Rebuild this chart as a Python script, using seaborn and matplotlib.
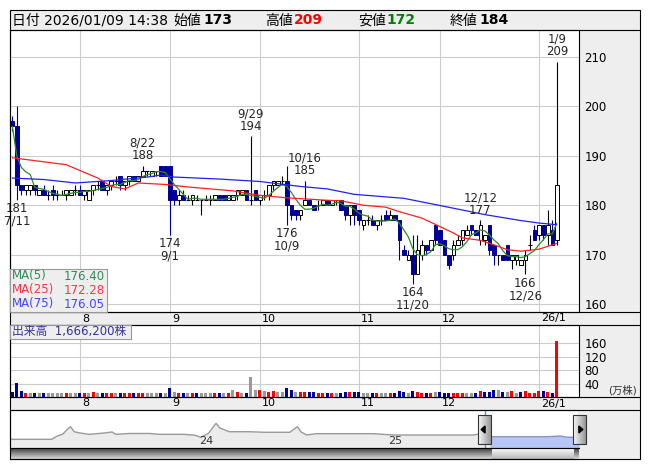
import numpy as np
import pandas as pd
import matplotlib
matplotlib.use("Agg")
import matplotlib.pyplot as plt
from matplotlib.patches import Rectangle, Polygon
import seaborn as sns

# ---------------- data ----------------
first_day = "2025-07-10"
last_day = "2026-01-09"
holidays = ["2025-07-21", "2025-08-11", "2025-09-15", "2025-09-23", "2025-10-13",
            "2025-11-03", "2025-11-24", "2025-12-31", "2026-01-01", "2026-01-02"]
stamp = "2026/01/09 14:38"
month_labels = ["8", "9", "10", "11", "12", "26/1"]

opens = [197, 196, 184, 183, 183, 184, 182, 183, 182, 183, 182, 182, 182, 182, 183, 183, 182, 181, 183, 184,
         185, 183, 184, 185, 186, 184, 185, 186, 185, 186, 187, 186, 187, 188, 188, 188, 183, 181, 182, 181,
         181, 181, 181, 181, 181, 181, 182, 182, 181, 181, 182, 182, 183, 181, 183, 181, 182, 182, 184, 184,
         185, 185, 180, 179, 178, 180, 181, 180, 180, 180, 181, 180, 181, 181, 180, 178, 180, 179, 176, 177,
         177, 176, 177, 178, 177, 178, 177, 171, 169, 170, 166, 170, 172, 171, 176, 175, 173, 170, 170, 172,
         173, 174, 176, 175, 173, 173, 176, 172, 170, 170, 172, 169, 169, 168, 169, 172, 175, 174, 176, 174,
         175, 173]
highs = [198, 200, 184, 184, 184, 184, 183, 184, 183, 184, 183, 183, 183, 183, 184, 184, 183, 183, 184, 185,
         185, 184, 185, 186, 186, 185, 186, 186, 186, 188, 187, 187, 187, 188, 188, 188, 183, 183, 183, 182,
         182, 182, 181, 182, 182, 182, 182, 182, 182, 182, 183, 183, 183, 194, 183, 182, 183, 184, 185, 185,
         186, 188, 180, 179, 179, 185, 181, 180, 181, 181, 181, 181, 181, 181, 180, 180, 180, 179, 177, 178,
         178, 177, 178, 179, 179, 178, 177, 172, 171, 174, 174, 173, 172, 173, 176, 175, 173, 170, 173, 174,
         175, 176, 176, 175, 177, 174, 176, 172, 170, 170, 172, 170, 170, 169, 171, 174, 176, 176, 176, 179,
         177, 209]
lows = [195, 181, 182, 182, 182, 182, 182, 182, 181, 181, 181, 182, 181, 182, 182, 182, 181, 181, 182, 183,
        183, 182, 183, 184, 183, 183, 184, 185, 185, 186, 186, 186, 186, 186, 186, 174, 180, 180, 181, 181,
        180, 181, 178, 181, 180, 181, 181, 181, 181, 181, 181, 182, 181, 180, 181, 180, 181, 181, 183, 184,
        184, 176, 177, 177, 177, 180, 180, 179, 179, 180, 180, 180, 180, 179, 177, 176, 176, 176, 175, 176,
        176, 175, 176, 177, 177, 177, 169, 170, 169, 164, 166, 169, 170, 171, 172, 172, 170, 167, 169, 172,
        172, 174, 174, 174, 172, 172, 170, 168, 168, 169, 169, 167, 168, 168, 166, 171, 173, 173, 173, 172,
        172, 172]
closes = [196, 184, 183, 184, 184, 183, 183, 182, 182, 182, 182, 182, 183, 183, 183, 182, 183, 183, 184, 184,
          183, 184, 185, 185, 184, 185, 186, 185, 186, 187, 187, 187, 187, 186, 186, 181, 181, 182, 181, 181,
          182, 181, 181, 181, 181, 182, 181, 181, 182, 182, 183, 183, 181, 181, 181, 182, 182, 184, 185, 185,
          185, 180, 178, 178, 179, 181, 180, 179, 180, 181, 180, 181, 181, 179, 178, 180, 178, 177, 177, 177,
          176, 177, 177, 177, 178, 177, 173, 170, 170, 166, 171, 172, 171, 173, 173, 172, 170, 168, 172, 173,
          175, 175, 175, 174, 176, 174, 171, 170, 170, 169, 169, 170, 170, 169, 170, 172, 173, 176, 174, 176,
          172, 184]
volumes = [16, 43, 19, 12, 11, 11, 13, 12, 11, 12, 12, 12, 12, 12, 12, 12, 13, 12, 14, 12,
           13, 11, 12, 13, 13, 12, 13, 12, 12, 13, 13, 12, 12, 13, 13, 28, 15, 13, 12, 12,
           11, 11, 12, 11, 11, 12, 12, 12, 13, 20, 14, 12, 12, 60, 20, 20, 17, 15, 17, 16,
           15, 26, 22, 15, 14, 15, 14, 14, 13, 13, 13, 13, 13, 13, 15, 15, 14, 15, 13, 13,
           13, 13, 13, 12, 13, 13, 17, 14, 13, 17, 15, 13, 12, 12, 14, 14, 13, 12, 12, 12,
           13, 12, 12, 12, 17, 14, 15, 22, 20, 16, 14, 17, 13, 14, 17, 12, 12, 17, 17, 15,
           12, 166.62]  # 万株

ma25_idx = [0, 12, 19, 22, 25, 28, 34, 39, 49, 55, 61, 70, 73, 78, 83, 86, 91, 95, 98, 100, 104, 107, 110, 113, 117, 121]
ma25_val = [189.6, 188.2, 185.5, 183.8, 183.3, 184.5, 184.2, 183.7, 182.9, 182.0, 181.5, 181.0, 180.9, 180.0,
            179.6, 178.7, 177.4, 175.7, 174.4, 173.4, 172.9, 172.0, 171.0, 170.7, 171.1, 172.28]
ma75_idx = [0, 7, 14, 22, 30, 33, 36, 46, 55, 64, 70, 76, 87, 98, 105, 113, 117, 121]
ma75_val = [185.5, 185.2, 184.5, 185.0, 185.7, 186.1, 185.7, 185.3, 184.8, 183.8, 183.3, 182.2, 181.4, 179.4,
            178.1, 176.9, 176.4, 176.05]
ma_names = ["MA(5)", "MA(25)", "MA(75)"]
ma_last = [176.40, 172.28, 176.05]

peak_days = ["2025-08-22", "2025-09-29", "2025-10-16", "2025-12-12", "2026-01-09"]
trough_days = ["2025-07-11", "2025-09-01", "2025-10-09", "2025-11-20", "2025-12-26"]

nav_t = [2023.01, 2023.23, 2023.26, 2023.29, 2023.31, 2023.33, 2023.35, 2023.38, 2023.43, 2023.51, 2023.55,
         2023.57, 2023.64, 2023.75, 2023.80, 2023.93, 2023.99, 2024.02, 2024.06, 2024.10, 2024.12, 2024.17,
         2024.27, 2024.36, 2024.49, 2024.53, 2024.55, 2024.58, 2024.63, 2024.93, 2024.98, 2025.04, 2025.46,
         2025.48, 2025.52, 2025.55, 2025.85, 2025.92, 2025.96, 2026.02]
nav_v = [137, 137, 189, 221, 284, 336, 257, 237, 216, 237, 253, 216, 229, 229, 216, 216, 201, 169, 232, 390,
         316, 257, 257, 248, 248, 336, 253, 205, 226, 226, 216, 205, 205, 216, 221, 178, 178, 189, 169, 169]
nav_years = [2024, 2025]

# ---------------- style ----------------
sns.set_theme(style="white")
plt.rcParams['font.family'] = ['DejaVu Sans', 'Noto Sans CJK JP']
plt.rcParams['axes.unicode_minus'] = False

BLUE = '#000099'
RED = '#ff0000'
VGRAY = '#999999'
GREEN_MA = '#2e8b2e'
RED_MA = '#ff2020'
BLUE_MA = '#2020ff'
PANEL = '#eeeeee'
GRID = '#cccccc'

dates = [d for d in pd.bdate_range(first_day, last_day) if d.strftime('%Y-%m-%d') not in holidays]
dkeys = [d.strftime('%Y-%m-%d') for d in dates]
n = len(dates)
x = np.arange(n)
O, H, L, C = map(np.array, (opens, highs, lows, closes))
vol = np.array(volumes, dtype=float)
ma5 = pd.Series(C, dtype=float).rolling(5, min_periods=1).mean().values
month_idx = [i for i in range(1, n) if dates[i].month != dates[i - 1].month]

W, HH = 653, 470
fig = plt.figure(figsize=(W / 100, HH / 100), dpi=100)
fig.patch.set_facecolor('white')


def box(x0, y0, x1, y1):
    return [x0 / W, 1 - y1 / HH, (x1 - x0) / W, (y1 - y0) / HH]


bg = fig.add_axes([0, 0, 1, 1], zorder=0)
bg.set_xlim(0, W); bg.set_ylim(HH, 0); bg.axis('off')
bg.add_patch(Rectangle((10, 10), 630, 449, facecolor=PANEL, edgecolor='none'))

ax = fig.add_axes(box(10, 30, 579, 312), zorder=1)
axv = fig.add_axes(box(10, 325, 579, 397), zorder=1)
axn = fig.add_axes(box(10, 410, 579, 448), zorder=1)
top = fig.add_axes([0, 0, 1, 1], zorder=5)
top.set_xlim(0, W); top.set_ylim(HH, 0); top.axis('off')

XL = (-0.51, 125.93)

# ---------------- price panel ----------------
up = C > O
dn = C < O
fl = C == O
wick_cols = [BLUE if d else 'black' for d in dn]
ax.vlines(x, L, H, colors=wick_cols, lw=0.8, zorder=2)
ax.bar(x[up], (C - O)[up], bottom=O[up], width=0.8, facecolor='white', edgecolor='black', lw=0.7, zorder=3)
ax.bar(x[dn], (O - C)[dn], bottom=C[dn], width=0.8, facecolor=BLUE, edgecolor=BLUE, lw=0.7, zorder=3)
ax.hlines(C[fl], x[fl] - 0.4, x[fl] + 0.4, colors='black', lw=0.8, zorder=3)

sns.lineplot(x=x, y=ma5, ax=ax, color=GREEN_MA, lw=0.9, zorder=4)
sns.lineplot(x=ma25_idx, y=ma25_val, ax=ax, color=RED_MA, lw=0.9, zorder=4)
sns.lineplot(x=ma75_idx, y=ma75_val, ax=ax, color=BLUE_MA, lw=0.9, zorder=4)

ax.set_xlim(*XL)
ax.set_ylim(158.4, 215.45)
ax.set_xticks(month_idx)
ax.set_xticklabels([])
ax.set_yticks(range(160, 211, 10))
ax.yaxis.tick_right()
ax.tick_params(axis='both', length=0, labelsize=8.5, pad=4, colors='black')
ax.grid(True, color=GRID, lw=0.8)
ax.set_axisbelow(True)
ax.set_xlabel(''); ax.set_ylabel('')
for s in ax.spines.values():
    s.set_color('black'); s.set_linewidth(0.8)

for d in peak_days:
    i = dkeys.index(d)
    ax.annotate(f"{dates[i].month}/{dates[i].day}\n{H[i]}", xy=(i, H[i]), xytext=(0, 2.5),
                textcoords='offset points', ha='center', va='bottom', fontsize=8.5, linespacing=0.95, zorder=6)
for d in trough_days:
    i = dkeys.index(d)
    ax.annotate(f"{L[i]}\n{dates[i].month}/{dates[i].day}", xy=(i, L[i]), xytext=(0, -1.5),
                textcoords='offset points', ha='center', va='top', fontsize=8.5, linespacing=0.95, zorder=6)

# ---------------- volume panel ----------------
prev = np.concatenate([[O[0]], C[:-1]])
vdir = np.where(C > prev, 'up', np.where(C < prev, 'down', 'flat'))
vdf = pd.DataFrame({'i': x, 'v': vol, 'dir': vdir})
sns.barplot(data=vdf, x='i', y='v', hue='dir', palette={'up': RED, 'down': BLUE, 'flat': VGRAY},
            native_scale=True, dodge=False, width=0.6, saturation=1, errorbar=None,
            legend=False, linewidth=0, ax=axv, zorder=3)
axv.set_xlim(*XL)
axv.set_ylim(0, 215)
axv.set_xticks(month_idx)
axv.set_xticklabels([])
axv.set_yticks([40, 80, 120, 160])
axv.yaxis.tick_right()
axv.tick_params(axis='both', length=0, labelsize=8.5, pad=4, colors='black')
axv.grid(True, color=GRID, lw=0.8)
axv.set_axisbelow(True)
axv.set_xlabel(''); axv.set_ylabel('')
for s in axv.spines.values():
    s.set_color('black'); s.set_linewidth(0.8)

for a in (ax, axv):
    for i, lbl in zip(month_idx, month_labels):
        a.annotate(lbl, xy=(i, 0), xycoords=('data', 'axes fraction'), xytext=(2.5, -6.5),
                   textcoords='offset pixels', ha='left', va='center', fontsize=8, color='black')

# ---------------- navigator ----------------
nt = np.array(nav_t); nv = np.array(nav_v, dtype=float)
sel0 = dates[0].year + (dates[0].dayofyear - 1) / 365.0
sel1 = dates[-1].year + (dates[-1].dayofyear - 1) / 365.0
axn.fill_between(nt, nv, 0, color='#ececec', lw=0, zorder=1)
m = nt >= sel0 - 1e-9
axn.fill_between(nt[m], nv[m], 0, color='#b8c6f6', lw=0, zorder=2)
sns.lineplot(x=nt[nt <= sel0 + 0.03], y=nv[nt <= sel0 + 0.03], ax=axn, color='#999999', lw=1, zorder=3)
sns.lineplot(x=nt[m], y=nv[m], ax=axn, color='#8890c8', lw=1, zorder=3)
axn.set_xlim(2023.01, 2026.02)
axn.set_ylim(0, 600)
axn.set_xticks([]); axn.set_yticks([])
axn.set_xlabel(''); axn.set_ylabel('')
axn.axvline(sel0, color='#3aa0e0', lw=1, zorder=4)
axn.axvline(sel1, color='#3aa0e0', lw=1, zorder=4)
for s in axn.spines.values():
    s.set_color('black'); s.set_linewidth(0.8)
axn.spines['right'].set_visible(False)
for yv in nav_years:
    axn.annotate(str(yv % 100), xy=(yv, 0), xycoords=('data', 'axes fraction'), xytext=(2, 6.5),
                 textcoords='offset pixels', ha='left', va='center', fontsize=8, color='#333333')

# pixel positions of the selection
fig.canvas.draw()
px0 = axn.transData.transform((sel0, 0))[0]
px1 = axn.transData.transform((sel1, 0))[0]

# scrollbar gradients
grad_dark = np.linspace(0.25, 0.85, 20).reshape(-1, 1)
grad_light = np.linspace(0.98, 0.72, 20).reshape(-1, 1)
top.imshow(grad_dark, cmap='gray', vmin=0, vmax=1, extent=(10, 579, 459, 448), aspect='auto', zorder=1)
top.imshow(grad_light, cmap='gray', vmin=0, vmax=1, extent=(px0 + 7, px1 - 6, 459, 448), aspect='auto', zorder=2)
top.set_xlim(0, W); top.set_ylim(HH, 0)

# handles
for cx, direction in ((px0, -1), (px1, 1)):
    top.imshow(np.linspace(0.97, 0.6, 20).reshape(1, -1), cmap='gray', vmin=0, vmax=1,
               extent=(cx - 6.5, cx + 6.5, 444, 415), aspect='auto', zorder=3)
    top.add_patch(Rectangle((cx - 6.5, 415), 13, 29, fill=False, edgecolor='#333333', lw=0.8, zorder=4))
    tx = cx + direction * 1.5
    top.add_patch(Polygon([(tx + direction * 2, 429.5), (tx - direction * 2, 426), (tx - direction * 2, 433)],
                          closed=True, color='black', zorder=5))
top.set_xlim(0, W); top.set_ylim(HH, 0)

# frame lines
K = dict(color='black', lw=0.8, zorder=6)
top.add_patch(Rectangle((10, 10), 630, 449, fill=False, edgecolor='black', lw=0.8, zorder=6))
for yy in (30, 312, 325, 397, 410):
    top.plot([10, 640], [yy, yy], **K)
top.plot([10, 579], [448, 448], **K)
top.plot([10, 579], [459, 459], **K)

# header
hdr = [("日付 " + stamp, 12, 'normal', 'black'),
       ("始値", 173.5, 'normal', 'black'), (str(O[-1]), 203, 'bold', 'black'),
       ("高値", 265, 'normal', 'black'), (str(H[-1]), 294, 'bold', RED),
       ("安値", 358, 'normal', 'black'), (str(L[-1]), 386, 'bold', '#008000'),
       ("終値", 450, 'normal', 'black'), (str(C[-1]), 479, 'bold', 'black')]
for t, xx, wt, col in hdr:
    top.text(xx, 20.5, t, fontsize=10, fontweight=wt, color=col, ha='left', va='center', zorder=7)

# MA legend box
top.add_patch(Rectangle((10, 269), 97, 43, facecolor=PANEL, edgecolor='#999999', lw=0.8, zorder=6))
for k, (nm, val, col) in enumerate(zip(ma_names, ma_last, ['#2e8b57', '#ff3344', '#4444ff'])):
    yy = 276 + 14 * k
    top.text(12, yy, nm, color=col, fontsize=8.5, ha='left', va='center', zorder=7)
    top.text(105, yy, f"{val:.2f}", color=col, fontsize=8.5, ha='right', va='center', zorder=7)

# volume title box
top.add_patch(Rectangle((10, 325), 121, 14, facecolor=PANEL, edgecolor='#999999', lw=0.8, zorder=6))
top.text(12, 332, "出来高  " + f"{int(round(vol[-1] * 10000)):,}株", color='#333399', fontsize=8.5,
         ha='left', va='center', zorder=7)
top.text(637, 390, "(万株)", color='#333333', fontsize=7.5, ha='right', va='center', zorder=7)

fig.savefig('out.png', dpi=100, facecolor='white')
